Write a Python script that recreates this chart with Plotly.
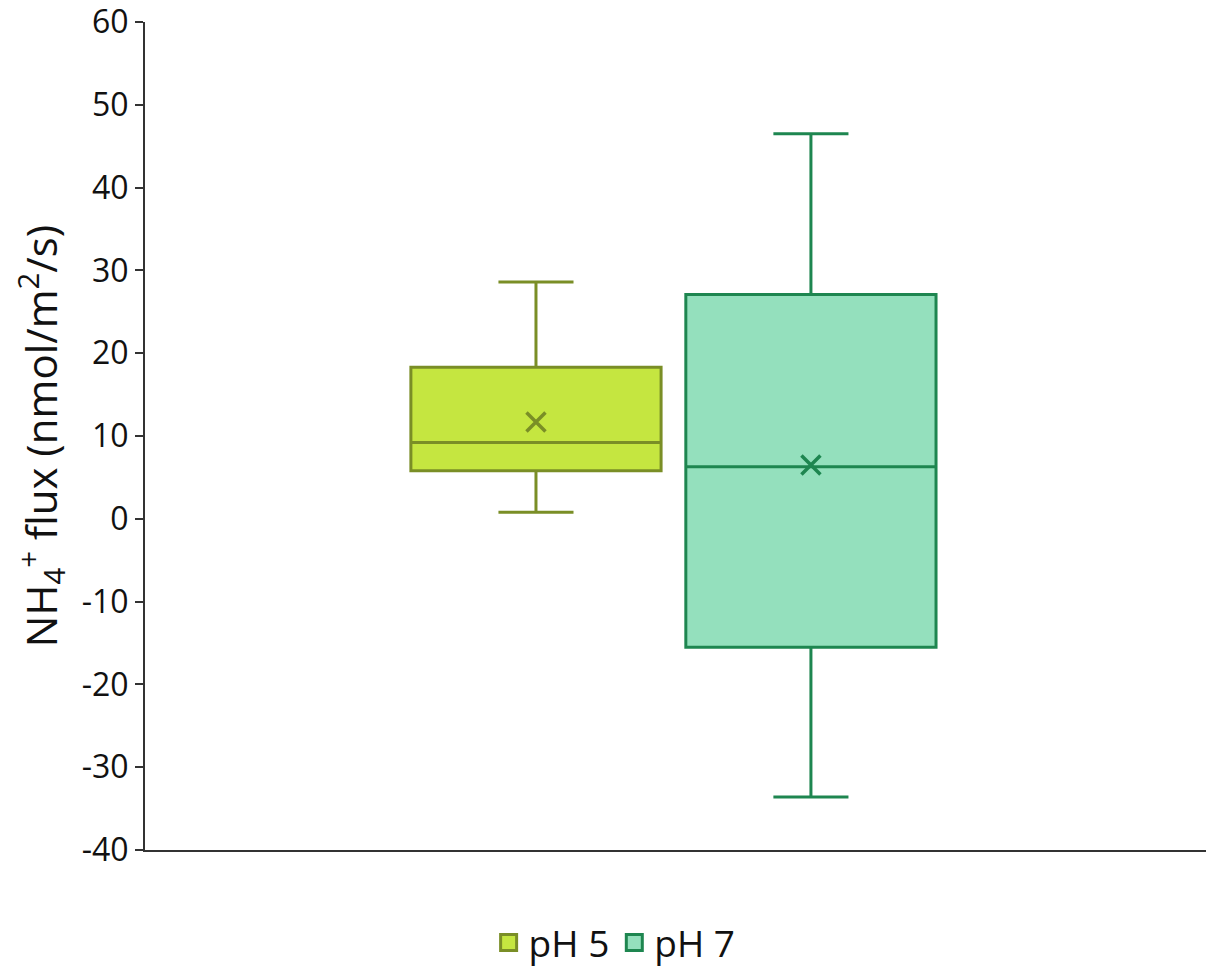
import plotly.graph_objects as go

groups = ["pH 5", "pH 7"]
q1 = [5.8, -15.5]
median = [9.2, 6.3]
q3 = [18.3, 27.1]
lower = [0.8, -33.6]
upper = [28.6, 46.5]
means = [11.7, 6.5]

tick_vals = [-40, -30, -20, -10, 0, 10, 20, 30, 40, 50, 60]
tick_text = ["-40", "-30", "-20", "-10", "0", "10", "20", "30", "40", "50", "60"]

fill_colors = ["#C5E640", "#94E0BD"]
line_colors = ["#7A8E26", "#1E8650"]

fig = go.Figure()
for i, g in enumerate(groups):
    fig.add_trace(go.Box(
        x=[g], q1=[q1[i]], median=[median[i]], q3=[q3[i]],
        lowerfence=[lower[i]], upperfence=[upper[i]],
        name=g, fillcolor=fill_colors[i],
        line=dict(color=line_colors[i], width=3),
        whiskerwidth=0.3, boxpoints=False, showlegend=False,
        hoverinfo="y",
    ))
    fig.add_trace(go.Scatter(
        x=[g], y=[means[i]], mode="markers", showlegend=False,
        marker=dict(symbol="x-thin-open", size=19, color=line_colors[i],
                    line=dict(color=line_colors[i], width=3.5)),
    ))
    # legend entry
    fig.add_trace(go.Scatter(
        x=[None], y=[None], mode="markers", name=g,
        marker=dict(symbol="square", size=16, color=fill_colors[i],
                    line=dict(color=line_colors[i], width=3)),
    ))

fig.update_layout(
    width=1206, height=960,
    margin=dict(l=137, r=0, t=14, b=118, autoexpand=False),
    paper_bgcolor="white", plot_bgcolor="white",
    boxmode="overlay", boxgap=0.09, boxgroupgap=0,
    font=dict(family="Open Sans", color="#111111"),
    showlegend=True,
    legend=dict(orientation="h", xref="container", yref="container",
                x=0.503, xanchor="center", y=0.026, yanchor="middle",
                font=dict(size=37, color="#111111"), itemsizing="trace"),
)
fig.update_xaxes(
    type="category", categoryorder="array", categoryarray=groups,
    range=[-1.422, 2.466], showticklabels=False, ticks="",
    showgrid=False, zeroline=False, automargin=False,
    showline=True, linecolor="#333333", linewidth=2,
)
fig.update_yaxes(
    range=[-40, 60], tickmode="array", tickvals=tick_vals, ticktext=tick_text,
    showgrid=False, zeroline=False, ticklabeloverflow="allow", automargin=False,
    showline=True, linecolor="#333333", linewidth=2,
    ticks="outside", ticklen=8, tickwidth=2, tickcolor="#333333",
    tickfont=dict(size=32, color="#111111"),
    title=dict(text="NH<sub>4</sub><sup>+</sup> flux (nmol/m<sup>2</sup>/s)",
               font=dict(size=42, color="#111111"), standoff=39),
)

fig.write_html("out.html")
